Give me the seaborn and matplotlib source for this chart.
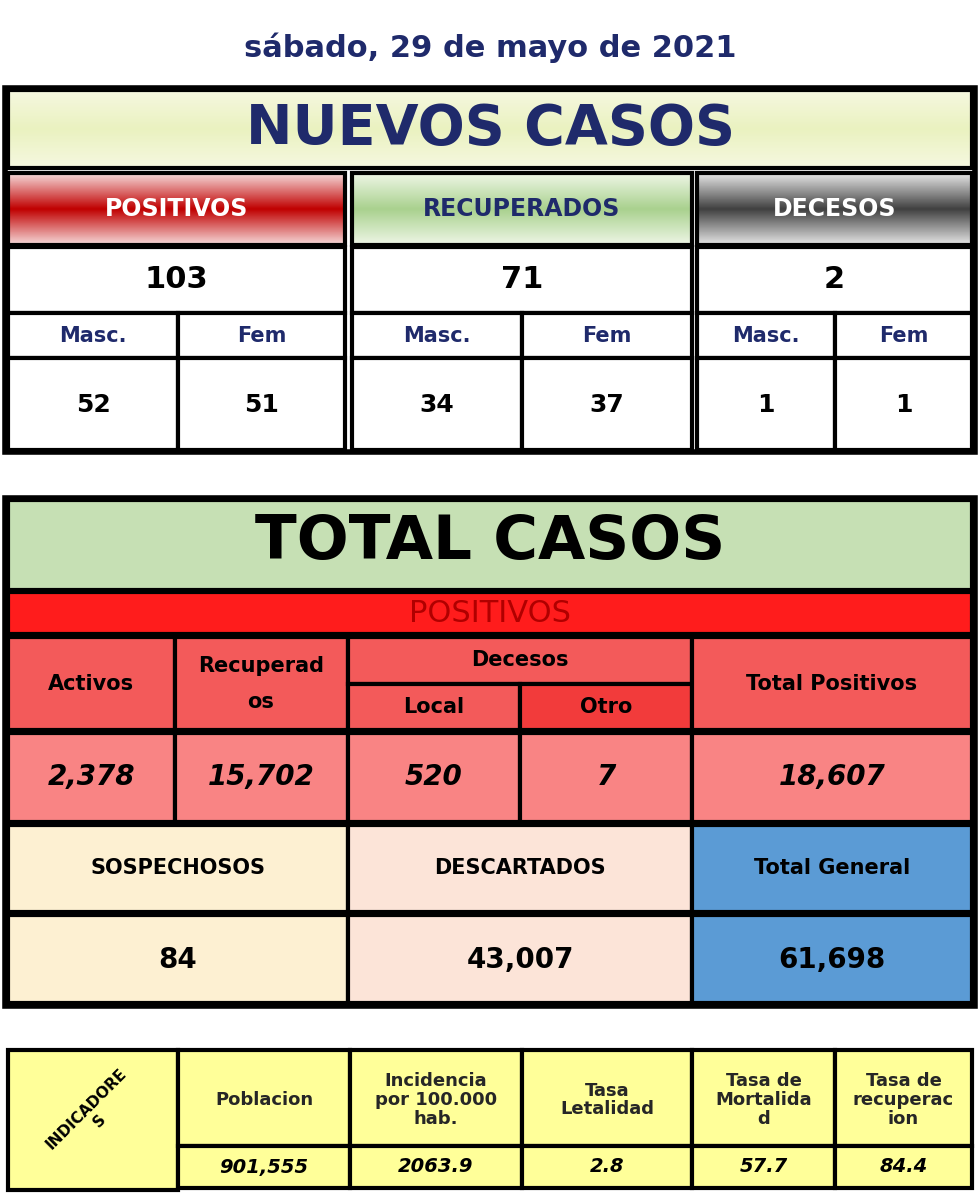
import numpy as np
import matplotlib.pyplot as plt
import seaborn as sns
from matplotlib.patches import Rectangle
from matplotlib.colors import LinearSegmentedColormap

sns.set_theme(style="white")
plt.rcParams['font.family'] = ['DejaVu Sans']

fecha = "sábado, 29 de mayo de 2021"
nuevos_grupos = ["POSITIVOS", "RECUPERADOS", "DECESOS"]
nuevos_totales = ["103", "71", "2"]
nuevos_sexo = ["52", "51", "34", "37", "1", "1"]
total_vals = ["2,378", "15,702", "520", "7", "18,607"]
otros_labels = ["SOSPECHOSOS", "DESCARTADOS", "Total General"]
otros_vals = ["84", "43,007", "61,698"]
ind_labels = ["Poblacion", "Incidencia\npor 100.000\nhab.", "Tasa\nLetalidad",
              "Tasa de\nMortalida\nd", "Tasa de\nrecuperac\nion"]
ind_vals = ["901,555", "2063.9", "2.8", "57.7", "84.4"]

NAVY = "#1f2a6b"
fig = plt.figure(figsize=(9.8, 11.97), dpi=100)
ax = fig.add_axes([0, 0, 1, 1])
ax.axis("off")


def cell(x0, y0, x1, y1, fc="white", lw=3):
    ax.add_patch(Rectangle((x0, y0), x1 - x0, y1 - y0, facecolor=fc,
                           edgecolor="black", linewidth=lw, zorder=2))


def grad(x0, y0, x1, y1, colors):
    cm = LinearSegmentedColormap.from_list("g", colors)
    g = np.linspace(0, 1, 100).reshape(-1, 1)
    ax.imshow(g, cmap=cm, extent=(x0, x1, y1, y0), aspect="auto", zorder=2.5)
    ax.add_patch(Rectangle((x0, y0), x1 - x0, y1 - y0, facecolor="none",
                           edgecolor="black", linewidth=3, zorder=3))


def txt(x, y, s, size, color="black", weight="bold", style="normal", **kw):
    ax.text(x, y, s, fontsize=size, color=color, fontweight=weight,
            fontstyle=style, ha="center", va="center", zorder=4, **kw)


txt(490, 48, fecha, 22, NAVY)

# ---- NUEVOS CASOS ----
ax.add_patch(Rectangle((5, 88), 970, 364, facecolor="white", edgecolor="black", linewidth=4, zorder=1))
grad(8, 90, 972, 168, ["#f6f8e0", "#eaf2c0", "#f6f8e0"])
txt(490, 129, "NUEVOS CASOS", 40, NAVY, weight="heavy")

spans = [(8, 178, 345), (352, 522, 692), (697, 835, 972)]
grad_cols = [["#f6dada", "#c00000", "#f6dada"],
             ["#eef6e6", "#a9d18e", "#eef6e6"],
             ["#e6e6e6", "#404040", "#e6e6e6"]]
head_txt_col = ["white", NAVY, "white"]
for i, (a, m, b) in enumerate(spans):
    grad(a, 173, b, 245, grad_cols[i])
    txt((a + b) / 2, 209, nuevos_grupos[i], 17, head_txt_col[i])
    cell(a, 247, b, 313)
    txt((a + b) / 2, 280, nuevos_totales[i], 22)
    for j, (c0, c1) in enumerate([(a, m), (m, b)]):
        cell(c0, 313, c1, 358)
        txt((c0 + c1) / 2, 336, ["Masc.", "Fem"][j], 15, NAVY)
        cell(c0, 358, c1, 450)
        txt((c0 + c1) / 2, 405, nuevos_sexo[2 * i + j], 18)

# ---- TOTAL CASOS ----
ax.add_patch(Rectangle((5, 498), 970, 508, facecolor="white", edgecolor="black", linewidth=4, zorder=1))
cell(8, 500, 972, 590, "#c6e0b4")
txt(490, 543, "TOTAL CASOS", 44, weight="heavy")
cell(8, 592, 972, 634, "#ff1c1c")
txt(490, 613, "POSITIVOS", 22, "#b00000", weight="normal")

SAL = "#f35a5a"
cell(8, 637, 175, 730, SAL)
txt(91, 684, "Activos", 15)
cell(175, 637, 348, 730, SAL)
txt(261, 684, "Recuperad\n\nos", 15, linespacing=0.9)
cell(348, 637, 692, 684, SAL)
txt(520, 660, "Decesos", 15)
cell(348, 684, 520, 730, SAL)
txt(434, 707, "Local", 15)
cell(520, 684, 692, 730, "#f23b3b")
txt(606, 707, "Otro", 15)
cell(692, 637, 972, 730, SAL)
txt(832, 684, "Total Positivos", 15)

val_x = [(8, 175), (175, 348), (348, 520), (520, 692), (692, 972)]
for (a, b), v in zip(val_x, total_vals):
    cell(a, 733, b, 822, "#f98484")
    txt((a + b) / 2, 777, v, 20, style="italic")

ot_x = [(8, 348), (348, 692), (692, 972)]
ot_col = ["#fdf0d2", "#fce4d8", "#5b9bd5"]
for (a, b), l, v, c in zip(ot_x, otros_labels, otros_vals, ot_col):
    cell(a, 825, b, 912, c)
    txt((a + b) / 2, 868, l, 15)
    cell(a, 915, b, 1003, c)
    txt((a + b) / 2, 960, v, 20)

# ---- INDICADORES ----
YEL = "#ffff99"
cell(8, 1050, 178, 1190, YEL)
txt(93, 1115, "INDICADORE\nS", 11, rotation=45)
ind_x = [(178, 350), (350, 522), (522, 692), (692, 835), (835, 972)]
for (a, b), l, v in zip(ind_x, ind_labels, ind_vals):
    cell(a, 1050, b, 1146, YEL)
    t = ax.text((a + b) / 2, 1100, l, fontsize=13, fontweight="bold", ha="center",
                va="center", zorder=4, linespacing=1.05)
    t.set_clip_path(Rectangle((a, 1050), b - a, 96, transform=ax.transData))
    cell(a, 1146, b, 1188, YEL)
    txt((a + b) / 2, 1167, v, 14, style="italic")

ax.set_xlim(0, 980)
ax.set_ylim(1197, 0)
fig.savefig("out.png", dpi=100)
